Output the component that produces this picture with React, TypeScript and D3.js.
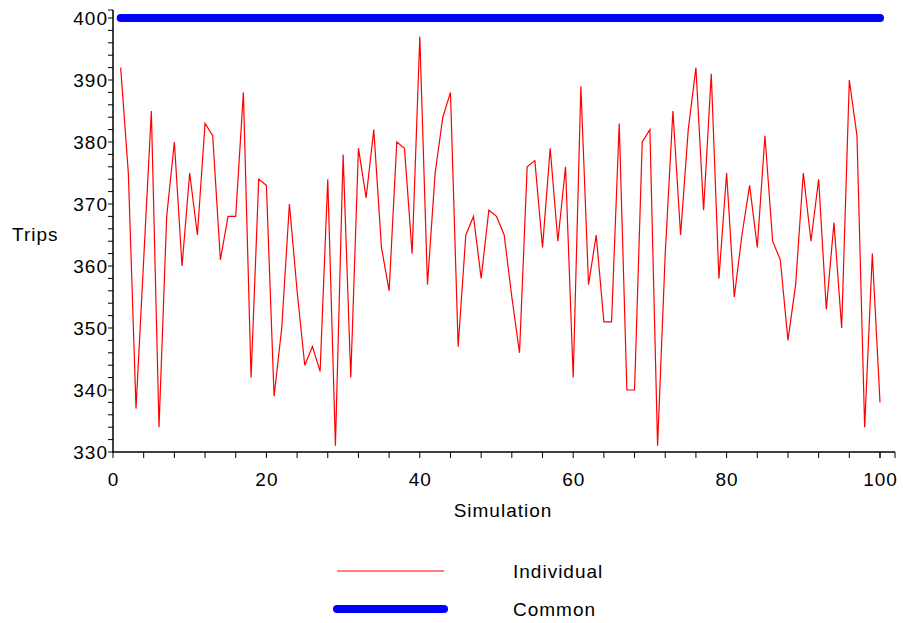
import { useEffect, useRef } from 'react';
import * as d3 from 'd3';

// simulation number 1..100
const simulations = d3.range(1, 101);

// trips per simulation, individual routing
const individual = [
  392, 375, 337, 361, 385, 334, 368, 380, 360, 375,
  365, 383, 381, 361, 368, 368, 388, 342, 374, 373,
  339, 350, 370, 356, 344, 347, 343, 374, 331, 378,
  342, 379, 371, 382, 363, 356, 380, 379, 362, 397,
  357, 375, 384, 388, 347, 365, 368, 358, 369, 368,
  365, 355, 346, 376, 377, 363, 379, 364, 376, 342,
  389, 357, 365, 351, 351, 383, 340, 340, 380, 382,
  331, 362, 385, 365, 382, 392, 369, 391, 358, 375,
  355, 365, 373, 363, 381, 364, 361, 348, 357, 375,
  364, 374, 353, 367, 350, 390, 381, 334, 362, 338,
];

// common routing is flat
const common = simulations.map(() => 400);

const xTicks = [0, 20, 40, 60, 80, 100];
const yTicks = [330, 340, 350, 360, 370, 380, 390, 400];

const FONT = '"Liberation Sans", Arial, sans-serif';

export default function App() {
  const svgRef = useRef<SVGSVGElement | null>(null);

  useEffect(() => {
    if (!svgRef.current) return;
    const svg = d3.select(svgRef.current);
    svg.selectAll('*').remove();

    const left = 113;
    const right = 880;
    const top = 18;
    const bottom = 452;

    const x = d3.scaleLinear().domain([0, 100]).range([left, right]);
    const y = d3.scaleLinear().domain([330, 400]).range([bottom, top]);

    const label = (sel: any) =>
      sel.style('font-family', FONT)
        .style('font-size', '19px')
        .style('letter-spacing', '1px');

    // axes lines (extend a little past the last value)
    const axisColor = '#000';
    svg.append('line')
      .attr('x1', left).attr('x2', left)
      .attr('y1', bottom + 0.5).attr('y2', 10)
      .attr('stroke', axisColor).attr('stroke-width', 1.5);
    svg.append('line')
      .attr('x1', left - 0.5).attr('x2', 895)
      .attr('y1', bottom).attr('y2', bottom)
      .attr('stroke', axisColor).attr('stroke-width', 1.5);

    // y ticks every 2, labels every 10
    const yMinor = d3.range(330, 401, 2);
    svg.append('g').selectAll('line')
      .data([...yMinor])
      .enter()
      .append('line')
      .attr('x1', left - 5).attr('x2', left)
      .attr('y1', (d) => y(d)).attr('y2', (d) => y(d))
      .attr('stroke', axisColor).attr('stroke-width', 1);
    svg.append('line')
      .attr('x1', left - 5).attr('x2', left)
      .attr('y1', 10).attr('y2', 10)
      .attr('stroke', axisColor).attr('stroke-width', 1);

    svg.append('g').selectAll('text')
      .data(yTicks)
      .enter()
      .append('text')
      .attr('x', left - 5)
      .attr('y', (d) => y(d))
      .attr('dy', '0.36em')
      .attr('text-anchor', 'end')
      .call(label)
      .text((d) => d);

    // x ticks every 4, labels every 20
    const xMinor = d3.range(0, 101, 4);
    svg.append('g').selectAll('line')
      .data([...xMinor, 100])
      .enter()
      .append('line')
      .attr('x1', (d) => x(d)).attr('x2', (d) => x(d))
      .attr('y1', bottom).attr('y2', bottom + 6)
      .attr('stroke', axisColor).attr('stroke-width', 1);
    svg.append('line')
      .attr('x1', 895).attr('x2', 895)
      .attr('y1', bottom).attr('y2', bottom + 6)
      .attr('stroke', axisColor).attr('stroke-width', 1);

    svg.append('g').selectAll('text')
      .data(xTicks)
      .enter()
      .append('text')
      .attr('x', (d) => x(d) + 0.5)
      .attr('y', bottom + 34)
      .attr('text-anchor', 'middle')
      .call(label)
      .text((d) => d);

    // axis titles
    svg.append('text')
      .attr('x', 12).attr('y', 241)
      .call(label)
      .text('Trips');
    svg.append('text')
      .attr('x', 503).attr('y', 517)
      .attr('text-anchor', 'middle')
      .call(label)
      .text('Simulation');

    // series
    const line = d3.line<number>()
      .x((_, i) => x(simulations[i]))
      .y((d) => y(d));

    svg.append('path')
      .datum(common)
      .attr('fill', 'none')
      .attr('stroke', '#0000ff')
      .attr('stroke-width', 8)
      .attr('stroke-linecap', 'round')
      .attr('d', line);

    svg.append('path')
      .datum(individual)
      .attr('fill', 'none')
      .attr('stroke', '#ff0000')
      .attr('stroke-width', 1.2)
      .attr('d', line);

    // legend
    const legend = [
      { name: 'Individual', color: '#ff0000', width: 1.2, cap: 'butt', y: 571 },
      { name: 'Common', color: '#0000ff', width: 8, cap: 'round', y: 609 },
    ];
    const lg = svg.append('g');
    legend.forEach((d) => {
      lg.append('line')
        .attr('x1', 337).attr('x2', 444)
        .attr('y1', d.y).attr('y2', d.y)
        .attr('stroke', d.color)
        .attr('stroke-width', d.width)
        .attr('stroke-linecap', d.cap);
      lg.append('text')
        .attr('x', 513).attr('y', d.y)
        .attr('dy', '0.36em')
        .call(label)
        .text(d.name);
    });
  }, []);

  return (
    <svg
      ref={svgRef}
      width={903}
      height={623}
      style={{ position: 'absolute', left: 0, top: 0, background: '#fff' }}
    />
  );
}
